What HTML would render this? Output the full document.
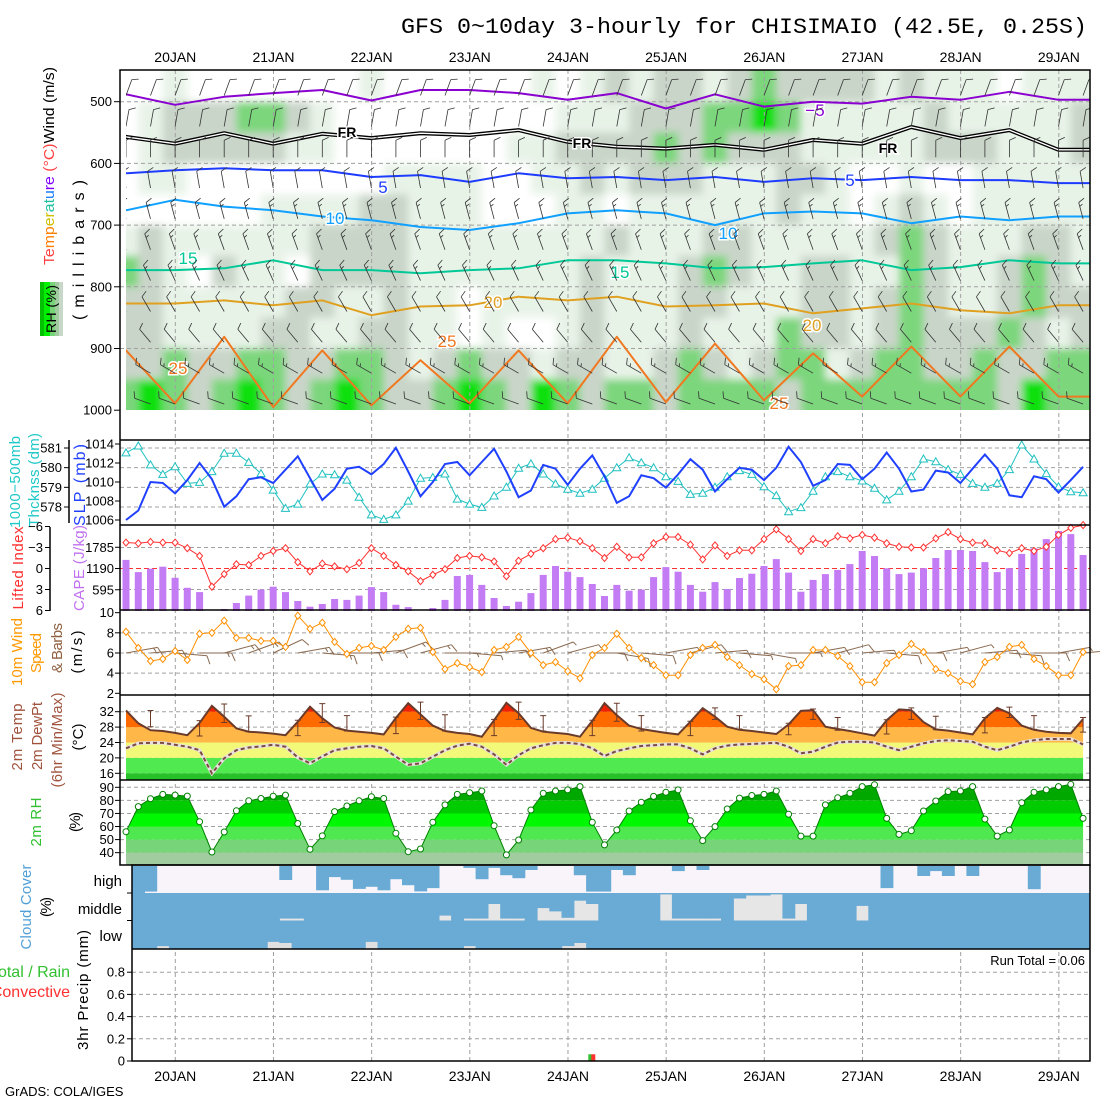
<!DOCTYPE html>
<html><head><meta charset="utf-8"><title>GFS meteogram CHISIMAIO</title>
<style>
html,body{margin:0;padding:0;background:#fff;}
svg{display:block;font-family:"Liberation Sans",sans-serif;}
.tk{font-size:13px;fill:#000;}
</style></head>
<body>
<svg id="chart" xmlns="http://www.w3.org/2000/svg" width="1100" height="1100" viewBox="0 0 1100 1100">
<defs>
<clipPath id="clipUpper"><rect x="126" y="70" width="964" height="340"/></clipPath>
<clipPath id="clipCloud"><rect x="132" y="866" width="958" height="83"/></clipPath>
<filter id="blur" x="-5%" y="-5%" width="110%" height="110%"><feGaussianBlur stdDeviation="4"/></filter>
</defs>
<rect x="0" y="0" width="1100" height="1100" fill="#fff"/>
<text x="401" y="33" font-family="Liberation Mono, monospace" font-size="22" textLength="686" lengthAdjust="spacingAndGlyphs">GFS 0~10day 3-hourly for CHISIMAIO (42.5E, 0.25S)</text>

<g id="gShade" clip-path="url(#clipUpper)"><g id="gShadeIn" filter="url(#blur)"></g></g>
<g id="gGrid"></g>
<g id="gUpper" clip-path="url(#clipUpper)"></g>
<g id="gMarks"></g>
<g id="gFrames" stroke="#000" stroke-width="1.5" fill="none">
<rect x="120" y="70" width="970" height="795"/>
<line x1="120" y1="440" x2="1090" y2="440"/>
<line x1="120" y1="525" x2="1090" y2="525"/>
<line x1="120" y1="610" x2="1090" y2="610"/>
<line x1="120" y1="695" x2="1090" y2="695"/>
<line x1="120" y1="780" x2="1090" y2="780"/>
<rect x="132" y="865" width="958" height="196"/>
<line x1="132" y1="949" x2="1090" y2="949"/>
<line x1="69" y1="440" x2="69" y2="523"/>
<line x1="50" y1="527" x2="50" y2="611"/>
</g>
<g id="gText">
<g transform="translate(54,166) rotate(-90)"><text x="0" y="0" text-anchor="middle" font-size="15" textLength="198" lengthAdjust="spacingAndGlyphs"><tspan fill="#ff4040">Te</tspan><tspan fill="#ff8000">mp</tspan><tspan fill="#d0c000">er</tspan><tspan fill="#20c0a0">at</tspan><tspan fill="#2080ff">u</tspan><tspan fill="#8000ff">re</tspan><tspan fill="#ff4040"> (°C)</tspan><tspan fill="#000">Wind (m/s)</tspan></text></g>
<g transform="translate(84,250) rotate(-90)"><text x="0" y="0" text-anchor="middle" font-size="16" textLength="140" lengthAdjust="spacing">(millibars)</text></g>
<g>
<rect x="40" y="282" width="4" height="54" fill="#00c000"/><rect x="44" y="282" width="6" height="54" fill="#00f000"/><rect x="50" y="282" width="5" height="54" fill="#78d478"/><rect x="55" y="282" width="4" height="54" fill="#a0cca0"/><rect x="59" y="282" width="4" height="54" fill="#c8d8c8"/>
<g transform="translate(56,309) rotate(-90)"><text x="0" y="0" text-anchor="middle" font-size="14" textLength="48">RH (%)</text></g>
</g>
<g transform="translate(20,482) rotate(-90)"><text text-anchor="middle" font-size="15" fill="#20c8c8" textLength="92">1000−500mb</text></g>
<g transform="translate(39,480) rotate(-90)"><text text-anchor="middle" font-size="15" fill="#20c8c8" textLength="94">Thcknss (dm)</text></g>
<g transform="translate(85,485) rotate(-90)"><text text-anchor="middle" font-size="16" fill="#2040ff" textLength="82">SLP (mb)</text></g>
<g transform="translate(23,568) rotate(-90)"><text text-anchor="middle" font-size="15" fill="#ff3030" textLength="83">Lifted Index</text></g>
<g transform="translate(84,568) rotate(-90)"><text text-anchor="middle" font-size="15" fill="#c070f0" textLength="86">CAPE (J/kg)</text></g>
<g transform="translate(22,652) rotate(-90)"><text text-anchor="middle" font-size="15" fill="#ff9900" textLength="68">10m Wind</text></g>
<g transform="translate(41,653) rotate(-90)"><text text-anchor="middle" font-size="15" fill="#ff9900" textLength="40">Speed</text></g>
<g transform="translate(62,648) rotate(-90)"><text text-anchor="middle" font-size="15" fill="#906040" textLength="50">&amp; Barbs</text></g>
<g transform="translate(82,652) rotate(-90)"><text text-anchor="middle" font-size="15" textLength="43">(m/s)</text></g>
<g transform="translate(22,737) rotate(-90)"><text text-anchor="middle" font-size="15" fill="#a0523c" textLength="67">2m Temp</text></g>
<g transform="translate(42,736) rotate(-90)"><text text-anchor="middle" font-size="15" fill="#a0523c" textLength="68">2m DewPt</text></g>
<g transform="translate(62,740) rotate(-90)"><text text-anchor="middle" font-size="15" fill="#a0523c" textLength="95">(6hr Min/Max)</text></g>
<g transform="translate(83,737) rotate(-90)"><text text-anchor="middle" font-size="15" textLength="27">(°C)</text></g>
<g transform="translate(41,822) rotate(-90)"><text text-anchor="middle" font-size="15" fill="#30c030" textLength="49">2m RH</text></g>
<g transform="translate(80,822) rotate(-90)"><text text-anchor="middle" font-size="15" textLength="20">(%)</text></g>
<g transform="translate(31,907) rotate(-90)"><text text-anchor="middle" font-size="15" fill="#50a0d8" textLength="85">Cloud Cover</text></g>
<g transform="translate(51,907) rotate(-90)"><text text-anchor="middle" font-size="15" textLength="20">(%)</text></g>
<text x="122" y="886" text-anchor="end" font-size="15">high</text>
<text x="122" y="914" text-anchor="end" font-size="15">middle</text>
<text x="122" y="941" text-anchor="end" font-size="15">low</text>
<text x="70" y="977" text-anchor="end" font-size="16" fill="#30c030">Total / Rain</text>
<text x="70" y="997" text-anchor="end" font-size="16" fill="#ff3030">Convective</text>
<g transform="translate(88,990) rotate(-90)"><text text-anchor="middle" font-size="15" textLength="120">3hr Precip (mm)</text></g>
<text x="1085" y="965" text-anchor="end" font-size="13">Run Total = 0.06</text>
<text x="5" y="1096" font-size="13">GrADS: COLA/IGES</text>
</g>
</svg>
<script>
// ===== data (3-hourly from 19JAN 12Z, 79 steps) =====
const days = ['20JAN','21JAN','22JAN','23JAN','24JAN','25JAN','26JAN','27JAN','28JAN','29JAN'];
const slp = [1006.0,1007.0,1010.0,1009.9,1008.8,1010.2,1012.0,1010.3,1007.4,1008.5,1010.3,1010.5,1009.9,1011.3,1012.7,1010.4,1008.1,1009.3,1011.4,1011.6,1010.8,1011.9,1013.6,1011.1,1008.5,1010.0,1011.9,1012.1,1010.7,1012.1,1013.5,1011.1,1008.4,1009.1,1011.8,1011.4,1009.7,1011.4,1012.8,1010.6,1007.8,1008.5,1010.7,1010.4,1009.4,1010.8,1012.4,1011.3,1009.0,1010.3,1011.5,1011.3,1010.2,1011.5,1013.7,1012.1,1009.6,1010.2,1011.9,1011.8,1010.3,1011.4,1013.1,1011.4,1009.0,1009.2,1011.2,1011.0,1009.9,1011.4,1012.9,1011.4,1008.6,1008.4,1010.6,1010.3,1008.9,1010.2,1011.6];
const thick = [580.75,581.1,580.14,579.66,580.05,579.2,579.25,579.8,580.73,580.73,580.27,579.7,578.86,577.93,578.15,579.17,579.68,579.64,579.37,578.5,577.6,577.37,577.6,578.3,579.46,579.5,579.68,578.4,578.15,577.98,578.56,579.0,579.97,580.2,579.68,579.17,578.9,578.7,578.9,579.46,580.0,580.5,580.25,580.0,579.54,579.3,578.64,578.7,579.0,579.54,579.85,579.66,579.03,578.58,577.76,577.97,578.8,579.54,579.8,579.54,579.32,578.95,578.36,578.8,579.54,580.44,580.3,579.9,579.66,579.2,579.0,579.2,579.9,581.15,580.44,579.7,579.03,578.78,578.73];
const li = [-3.7,-3.6,-3.8,-3.7,-3.7,-2.9,-1.8,2.6,0.8,-0.6,-0.5,-1.8,-2.5,-2.9,-0.9,0.4,-0.7,-0.3,0.1,-0.8,-2.9,-1.8,-0.5,0.4,1.8,0.9,0.1,-1.5,-1.8,-1.6,-1.0,1.1,-1.1,-2.1,-2.9,-4.2,-4.4,-3.9,-2.9,-1.5,-3.1,-1.6,-1.6,-3.6,-4.5,-4.5,-3.4,-1.3,-3.3,-1.8,-2.6,-2.6,-4.2,-5.6,-4.2,-2.5,-4.2,-3.6,-4.6,-4.3,-4.8,-4.4,-3.6,-3.1,-3.0,-3.0,-4.3,-5.2,-4.2,-3.7,-3.6,-2.6,-2.2,-2.9,-2.5,-3.1,-4.8,-5.8,-6.4];
const cape = [1430,1090,1185,1240,930,650,530,0,55,225,430,600,680,530,280,120,195,335,310,430,670,530,175,110,0,85,310,980,1010,730,365,140,260,500,1010,1260,1100,950,755,420,730,570,600,950,1230,1100,730,540,810,615,925,1045,1260,1455,1075,540,870,1035,1150,1315,1680,1540,1195,1035,1075,1200,1485,1710,1710,1680,1370,1090,1200,1600,1755,2015,2240,2155,1570];
const wspd = [8.1,6.5,5.2,5.4,6.2,5.3,7.9,8.0,9.2,7.5,7.5,7.2,7.2,6.6,9.7,8.4,9.0,7.1,5.9,6.5,6.7,6.3,7.6,8.4,8.5,6.1,4.4,5.0,4.6,4.1,6.3,6.6,7.6,6.0,4.8,5.1,4.2,3.5,5.8,6.5,7.9,6.5,5.5,4.8,3.8,3.8,5.8,6.5,6.8,5.6,4.8,3.9,3.4,2.4,4.7,4.8,6.3,6.3,5.7,4.7,3.1,3.1,5.0,5.8,6.9,6.1,4.4,4.0,3.2,2.9,5.1,5.6,6.6,6.8,5.4,4.7,3.8,3.8,6.1];
const wdir10 = [80,85,95,90,75,70,65,80,95,90,85,70,75,90,95,85,80,70,75,90,100,95,80,75,85,95,100,90,80,75,85,95,90,80,75,85,95,90,80,85];
const temp = [32.3,29.0,27.2,27.0,26.5,25.9,29.1,33.5,30.7,27.7,26.8,26.6,26.3,25.9,29.4,33.3,30.3,27.9,27.1,26.8,26.5,26.1,30.4,34.2,31.3,28.4,27.0,26.5,26.2,25.5,29.8,34.3,31.6,27.8,26.8,26.5,26.2,25.5,29.6,34.2,31.1,28.4,27.5,27.0,26.5,26.1,29.4,32.9,30.7,28.1,27.3,27.0,26.6,26.2,28.7,32.2,32.4,28.1,27.5,27.0,26.4,25.8,29.8,32.6,32.4,29.3,27.4,27.1,26.6,26.1,30.3,33.0,31.6,28.4,27.3,26.8,26.5,26.4,30.1];
const dew = [22.5,23.8,23.9,23.9,23.4,22.9,22.0,16.0,19.9,22.0,22.7,23.0,23.4,22.9,20.1,18.6,20.4,22.0,22.5,22.9,23.1,22.5,20.3,18.2,18.6,20.3,22.0,23.2,23.7,22.9,20.9,18.2,20.7,22.5,23.3,23.9,23.9,23.6,22.5,20.5,21.8,22.5,23.1,23.3,23.5,23.5,22.5,20.9,22.5,23.2,23.5,23.6,23.8,23.9,22.9,21.2,21.6,22.9,24.0,24.2,24.2,24.0,22.9,22.0,22.9,23.8,24.4,24.6,24.4,24.2,22.9,22.0,22.9,24.0,24.6,24.9,24.9,24.9,23.5];
const mmIdx = [2,6,8,10,14,16,18,22,24,26,30,32,34,38,40,42,46,48,50,54,56,58,62,64,66,70,72,74,78];
const mmHi = [32.3,29.7,34.0,30.9,29.8,34.1,31.0,30.6,34.5,31.2,30.0,34.5,31.0,29.8,34.2,31.0,29.5,33.0,31.0,29.0,32.7,30.5,29.9,33.0,30.8,30.5,33.2,31.0,30.5];
const mmLo = [28.1,25.7,29.2,26.8,25.8,29.2,27.0,26.3,30.0,27.0,25.8,30.0,27.0,25.8,29.5,27.0,25.8,30.0,27.5,26.0,30.0,27.2,26.2,30.0,27.3,26.5,30.5,27.4,26.7];
const rh = [56,75.2,81.3,84.6,84,83.3,63.7,40.5,55.8,72,79.7,81.4,83.2,84,62.3,42.6,52.8,71.4,75.7,79.7,82.8,81.4,54.8,40.7,42.8,63.2,76.5,84.6,85.9,87.2,60.6,38.3,49.7,72.6,85.4,87.2,88,90.5,63.2,45.9,57.3,71.9,78.5,83,86.2,88,64.4,49.2,59.9,73.4,81.7,83.7,84.6,87.2,69.4,52.7,52.7,76.5,82,85.4,90.5,92,66.2,54,56.8,71.9,79.5,86.7,87.2,90.5,65.7,52.7,57.3,78.2,86.2,88,90.5,92.3,66.2];
const cldHigh = [100,100,95,0,0,0,0,0,0,0,0,0,0,52,0,0,90,41,51,85,77,90,49,71,94,82,0,0,7,49,7,34,45,15,0,0,0,34,95,95,15,34,0,0,0,19,0,15,0,0,0,0,0,0,0,0,0,0,0,0,0,0,82,0,0,37,19,37,0,37,0,0,0,0,86,0,0,0,0];
const cldMid = [100,100,100,100,100,100,100,100,100,100,100,100,100,93,93,100,100,100,100,100,100,100,100,100,100,100,82,100,93,93,40,93,93,100,55,67,90,28,40,100,100,100,100,100,5,93,93,93,93,100,20,9,9,5,93,40,100,100,100,100,47,100,100,100,100,100,100,100,100,100,100,100,100,100,100,100,100,100,100];
const cldLow = [100,100,100,90,100,100,100,100,100,100,100,100,75,79,100,100,100,100,100,100,75,100,100,100,100,100,100,100,90,100,100,100,100,100,100,100,90,79,100,100,100,100,100,100,100,100,100,100,100,100,100,100,100,100,100,100,100,100,100,100,100,100,100,100,100,100,100,100,100,100,100,100,100,100,100,100,100,100,100];
const precipIdx = [38];
const precipTotal = [0.06];
const precipConv = [0.06];
// upper-air: RH category grid (6-hourly columns x 50 mb bands 450-1000)
const rhR0 = [0,0,1,0,0,0,0,0,0,0,1,0,0,0,0,0,0,1,0,1,2,1,2,2,1,2,3,2,2,2,2,1,2,1,1,1,0,1,1,1];
const rhR1 = [0,1,2,2,2,3,3,2,1,0,0,0,0,0,0,0,0,0,1,1,1,2,2,2,3,3,4,3,1,1,1,1,1,2,1,1,1,1,1,2];
const rhR2 = [0,1,2,2,2,2,2,1,1,0,0,0,0,0,0,0,1,1,2,2,2,2,3,2,3,2,2,2,1,1,1,1,1,2,2,2,1,1,1,2];
const rhR3 = [0,1,1,0,0,0,0,0,0,0,0,1,1,1,1,0,0,1,1,2,1,2,2,2,1,1,1,2,2,1,0,0,1,0,0,1,1,1,1,1];
const rhR4 = [0,0,0,0,0,0,1,1,1,1,2,2,1,1,1,0,0,0,1,1,0,1,1,1,1,1,1,2,1,1,0,1,2,1,0,1,1,1,1,1];
const rhR5 = [1,2,1,1,1,1,1,1,2,2,2,2,1,1,1,1,1,1,1,1,2,1,1,1,2,2,1,1,1,1,1,2,3,2,1,1,1,2,2,1];
const rhR6 = [3,2,1,0,2,1,1,0,2,2,2,2,1,1,1,1,1,1,1,2,1,1,1,2,3,2,1,1,2,2,1,1,3,2,1,1,2,3,2,1];
const rhR7 = [2,2,1,1,1,1,1,2,2,1,1,2,1,1,0,1,1,1,1,2,1,1,1,2,2,1,1,1,2,2,1,2,3,2,1,1,2,3,2,2];
const rhR8 = [2,2,1,1,1,1,2,2,1,1,2,2,1,1,0,1,0,0,1,2,1,1,1,2,1,1,1,3,2,2,1,2,3,2,2,2,3,2,1,2];
const rhR9 = [2,2,3,2,2,3,3,2,2,3,3,2,1,2,3,2,2,1,2,2,1,1,2,3,2,1,2,3,3,1,2,3,3,2,2,3,2,2,3,3];
const rhR10 = [3,4,3,2,3,4,3,2,3,4,3,2,2,3,4,3,2,4,3,2,3,3,2,3,3,3,3,2,3,3,3,3,3,3,3,3,2,4,3,3];
// isotherm pressure (mb) every 12 h
const isoM5 = [488,505,492,486,481,498,481,481,486,497,486,511,488,508,500,503,492,497,484,497];
const isoFR = [557,568,551,568,552,559,551,554,546,565,573,576,570,578,562,568,541,559,546,578];
const iso5 = [616,611,608,611,611,622,619,630,616,624,622,627,622,630,624,627,622,627,627,632];
const iso10 = [676,659,670,676,686,692,703,708,697,681,676,681,700,681,678,681,697,686,692,686];
const iso15 = [773,773,770,757,773,773,778,773,770,757,757,762,770,768,762,757,773,768,757,762];
const iso20 = [827,827,822,830,822,846,832,830,816,822,816,832,830,827,843,835,827,838,843,830];
const iso25 = [903,989,881,995,903,992,919,989,903,989,881,987,892,984,908,978,897,978,897,978];
const barbLevels = [490,540,590,640,690,740,790,840,890,940,990];
const barbDir = [20,10,0,350,345,340,335,330,320,300,290];
const barbSpd = [7,6,6,7,8,8,8,7,7,8,7];

// ===== scales =====
const NS = 'http://www.w3.org/2000/svg';
const svg = document.getElementById('chart');
const gShade = document.getElementById('gShadeIn');
const gGrid = document.getElementById('gGrid');
const gUpper = document.getElementById('gUpper');
const gMarks = document.getElementById('gMarks');
const gText = document.getElementById('gText');
function mk(tag, attrs, parent){const e=document.createElementNS(NS,tag);for(const k in attrs)e.setAttribute(k,attrs[k]);parent.appendChild(e);return e;}
const X = i => 126 + i*12.27;
const XD = d => 175.3 + d*98.17;
const XC6 = j => 126 + j*24.54;
const XC12 = k => 126 + k*49.08;
const yP = p => 101.7 + (p-500)*0.617;
const ySlp = v => 444 + (1014-v)*9.5;
const yThk = v => 448 + (581-v)*19.67;
const yLi = v => 568.5 + v*7.0;
const yCape = v => 611 - v*0.0357;
const yW = v => 693.3 - (v-2)*10.08;
const yT = v => 711.7 + (32-v)*3.85;
const yRh = v => 787.3 + (90-v)*1.307;
const yPr = v => 1061 - v*111;
function pts(arr, yf, xf){return arr.map((v,i)=>(xf||X)(i).toFixed(1)+','+yf(v).toFixed(1)).join(' ');}

// ===== upper RH shading =====
const rhGrid = [rhR0,rhR1,rhR2,rhR3,rhR4,rhR5,rhR6,rhR7,rhR8,rhR9,rhR10];
const rhColors = ['#ffffff','#e8f3e8','#c9d5c9','#7cd67c','#10e010'];
rhGrid.forEach((row,r)=>{
  row.forEach((c,j)=>{
    let x0 = XC6(j)-12.27, x1 = XC6(j)+12.27;
    if(j===0) x0 = 90; if(j===row.length-1) x1 = 1120;
    let y0 = yP(450+r*50), y1 = yP(500+r*50);
    if(r===0) y0 = 40; if(r===rhGrid.length-1) y1 = 440;
    const cell = mk('rect',{x:x0.toFixed(1),y:y0.toFixed(1),width:(x1-x0+0.6).toFixed(1),height:(y1-y0+0.6).toFixed(1),fill:rhColors[c]},gShade);
    
    
  });
});
const whiteBelow = mk('rect',{x:121,y:410,width:968,height:29,fill:'#fff'},gGrid);



// ===== grid lines =====
const dash = {stroke:'#a0a0a0','stroke-width':1,'stroke-dasharray':'4,3'};
function hline(y,x0,name){const l=mk('line',Object.assign({x1:x0,y1:y,x2:1090,y2:y},dash),gGrid);}
days.forEach((d,k)=>{
  const x = XD(k);
  const l = mk('line',Object.assign({x1:x,y1:70,x2:x,y2:1061},dash),gGrid);
  
  
  const t1 = mk('text',{x:x,y:62,'text-anchor':'middle','font-size':14,textLength:42},gText);
  t1.textContent = d;
  
  
  const t2 = mk('text',{x:x,y:1081,'text-anchor':'middle','font-size':14,textLength:42},gText);
  t2.textContent = d;
  
  
});
function tick(x1,x2,y){const t=mk('line',{x1:x1,y1:y,x2:x2,y2:y,stroke:'#000','stroke-width':1},gText);}
function label(x,y,s,name){const t=mk('text',{x:x,y:y+4.5,'text-anchor':'end','class':'tk'},gText);t.textContent=s;}
const pTicks = [500,600,700,800,900,1000];
pTicks.forEach(p=>{ if(p<1000) hline(yP(p),120,'pressure-gridline'); tick(114,120,yP(p)); label(112,yP(p),String(p),'pressure-tick-label'); });
const thkTicks = [581,580,579,578];
thkTicks.forEach(v=>{ hline(yThk(v),120,'thickness-gridline'); tick(64,69,yThk(v)); label(62,yThk(v),String(v),'thickness-tick-label'); });
const slpTicks = [1014,1012,1010,1008,1006];
slpTicks.forEach(v=>{ tick(115,120,ySlp(v)); label(114,ySlp(v),String(v),'slp-tick-label'); });
const liTicks = [-6,-3,0,3,6];
liTicks.forEach(v=>{ if(v===-3||v===3) hline(yLi(v),120,'li-gridline'); tick(45,50,yLi(v)); label(43,yLi(v),(v<0?'−':'')+Math.abs(v),'li-tick-label'); });
const capeTicks = [1785,1190,595];
capeTicks.forEach(v=>{ tick(115,120,yCape(v)); label(114,yCape(v),String(v),'cape-tick-label'); });
const wTicks = [10,8,6,4,2];
wTicks.forEach(v=>{ if(v>2&&v<10) hline(yW(v),120,'wind-gridline'); tick(115,120,yW(v)); label(114,yW(v),String(v),'wind-tick-label'); });
const tTicks = [32,28,24,20,16];
const rhTicks = [90,80,70,60,50,40];
const prTicks = [0.8,0.6,0.4,0.2,0];
prTicks.forEach(v=>{ if(v>0) hline(yPr(v),132,'precip-gridline'); tick(127,132,yPr(v)); label(125,yPr(v),String(v),'precip-tick-label'); });
const zeroLi = mk('line',{x1:120,y1:yLi(0),x2:1090,y2:yLi(0),stroke:'#ff3030','stroke-width':1,'stroke-dasharray':'5,3'},gGrid);



// ===== isotherms =====
function iso(arr,color,name,w){
  const p = [[120,yP(arr[0])]].concat(arr.map((v,k)=>[XC12(k),yP(v)])).concat([[1092,yP(arr[arr.length-1])]]);
  const s = p.map(q=>q[0].toFixed(1)+','+q[1].toFixed(1)).join(' ');
  const l = mk('polyline',{points:s,fill:'none',stroke:color,'stroke-width':w||2,'stroke-linejoin':'round'},gUpper);
  
  
  return s;
}
iso(isoM5,'#8a00d0','isotherm-minus5');
const frPts = iso(isoFR,'#000','isotherm-freezing',4);
const frIn = mk('polyline',{points:frPts,fill:'none',stroke:'#fff','stroke-width':1.3},gUpper);


iso(iso5,'#1e3cff','isotherm-5');
iso(iso10,'#10a0ff','isotherm-10');
iso(iso15,'#00c896','isotherm-15');
iso(iso20,'#e0a020','isotherm-20');
iso(iso25,'#f07820','isotherm-25');
const isoLabels = [['−5',815,116,'#8a00d0'],['FR',347,137,'#000'],['FR',582,148,'#000'],['FR',888,153,'#000'],['5',383,193,'#1e3cff'],['5',850,186,'#1e3cff'],['10',335,224,'#10a0ff'],['10',728,239,'#10a0ff'],['15',188,264,'#00c896'],['15',620,278,'#00c896'],['20',493,308,'#e0a020'],['20',812,331,'#e0a020'],['25',178,374,'#f07820'],['25',447,347,'#f07820'],['25',779,409,'#f07820']];
isoLabels.forEach(a=>{
  const t = mk('text',{x:a[1],y:a[2],'text-anchor':'middle','font-size':a[0]==='FR'?14:17,'font-weight':a[0]==='FR'?'bold':'normal',fill:a[3],stroke:'#fff','stroke-width':3,'paint-order':'stroke'},gUpper);
  t.textContent = a[0];
  
  
});

// ===== wind barbs =====
function barbPath(x,y,dir,spd,L,fl){
  const r = dir*Math.PI/180, ux = Math.sin(r), uy = -Math.cos(r);
  const px = -uy, py = ux;
  const tx = x+ux*L, ty = y+uy*L;
  let d = 'M'+x.toFixed(1)+' '+y.toFixed(1)+'L'+tx.toFixed(1)+' '+ty.toFixed(1);
  let n = Math.floor(spd/5), half = (spd%5)>=2.5, off = 0;
  for(let k=0;k<n;k++){const bx=tx-ux*off,by=ty-uy*off;d+='M'+bx.toFixed(1)+' '+by.toFixed(1)+'l'+((px*0.9+ux*0.4)*fl).toFixed(1)+' '+((py*0.9+uy*0.4)*fl).toFixed(1);off+=4;}
  if(half){const bx=tx-ux*off,by=ty-uy*off;d+='M'+bx.toFixed(1)+' '+by.toFixed(1)+'l'+((px*0.9+ux*0.4)*fl*0.5).toFixed(1)+' '+((py*0.9+uy*0.4)*fl*0.5).toFixed(1);}
  return d;
}
barbLevels.forEach((p,r)=>{
  for(let j=0;j<40;j++){
    const b = mk('path',{d:barbPath(XC6(j),yP(p),barbDir[r],barbSpd[r],17,7),stroke:'#333',fill:'none','stroke-width':0.8},gUpper);
    
    
  }
});
wdir10.forEach((d,j)=>{
  const i = j*2;
  const b = mk('path',{d:barbPath(X(i),yW(6),d,wspd[i],32,9),stroke:'#8a6a50',fill:'none','stroke-width':1},gMarks);
  
  
});

// ===== thickness / SLP =====
const thkLine = mk('polyline',{points:pts(thick,yThk),fill:'none',stroke:'#20c0c0','stroke-width':1},gMarks);


thick.forEach((v,i)=>{
  const x=X(i),y=yThk(v);
  const m = mk('path',{d:`M${x.toFixed(1)} ${(y-4).toFixed(1)}L${(x+4).toFixed(1)} ${(y+3).toFixed(1)}L${(x-4).toFixed(1)} ${(y+3).toFixed(1)}Z`,fill:'#fff',stroke:'#20c0c0','stroke-width':1},gMarks);
  
  
});
const slpLine = mk('polyline',{points:pts(slp,ySlp),fill:'none',stroke:'#2040ff','stroke-width':2},gMarks);



// ===== CAPE / LI =====
cape.forEach((v,i)=>{
  if(v<=0) return;
  const b = mk('rect',{x:(X(i)-3.5).toFixed(1),y:yCape(v).toFixed(1),width:7,height:(611-yCape(v)).toFixed(1),fill:'#c47cf5'},gMarks);
  
  
});
const liClip = li.map(v=>Math.max(v,-6.2));
const liLine = mk('polyline',{points:pts(liClip,yLi),fill:'none',stroke:'#ff3030','stroke-width':1},gMarks);


liClip.forEach((v,i)=>{
  const x=X(i),y=yLi(v);
  const m = mk('path',{d:`M${x.toFixed(1)} ${(y-3.5).toFixed(1)}L${(x+3).toFixed(1)} ${y.toFixed(1)}L${x.toFixed(1)} ${(y+3.5).toFixed(1)}L${(x-3).toFixed(1)} ${y.toFixed(1)}Z`,fill:'#fff',stroke:'#ff3030','stroke-width':1},gMarks);
  
  
});

// ===== 10m wind speed =====
const wLine = mk('polyline',{points:pts(wspd,yW),fill:'none',stroke:'#ff9000','stroke-width':1},gMarks);


wspd.forEach((v,i)=>{
  const x=X(i),y=yW(v);
  const m = mk('path',{d:`M${x.toFixed(1)} ${(y-3.5).toFixed(1)}L${(x+3).toFixed(1)} ${y.toFixed(1)}L${x.toFixed(1)} ${(y+3.5).toFixed(1)}L${(x-3).toFixed(1)} ${y.toFixed(1)}Z`,fill:'#fff',stroke:'#ff9000','stroke-width':1},gMarks);
  
  
});

// ===== temperature panel =====
const tPoly = pts(temp,yT)+` ${X(78).toFixed(1)},780 ${X(0).toFixed(1)},780`;
const defs = svg.querySelector('defs');
const cpT = mk('clipPath',{id:'clipTemp'},defs);
mk('polygon',{points:tPoly},cpT);
const gT = mk('g',{'clip-path':'url(#clipTemp)'},gMarks);


const tBands = [[14,16,'#28c028'],[16,20,'#50ea50'],[20,24,'#f2f878'],[24,28,'#ffb848'],[28,32,'#ff6a00'],[32,40,'#f02000']];
tBands.forEach(b=>{
  const r = mk('rect',{x:120,y:yT(b[1]).toFixed(1),width:970,height:(yT(b[0])-yT(b[1])).toFixed(1),fill:b[2]},gT);
  
  
});
tTicks.forEach(v=>{ hline(yT(v),120,'temp-gridline'); tick(115,120,yT(v)); label(114,yT(v),String(v),'temp-tick-label'); });
const tLine = mk('polyline',{points:pts(temp,yT),fill:'none',stroke:'#6a3a2a','stroke-width':2},gMarks);


const dLineBg = mk('polyline',{points:pts(dew,yT),fill:'none',stroke:'#e8e0e0','stroke-width':3.5},gMarks);


const dLine = mk('polyline',{points:pts(dew,yT),fill:'none',stroke:'#7a4a40','stroke-width':2,'stroke-dasharray':'4,3'},gMarks);


mmIdx.forEach((i,k)=>{
  const x=X(i), y1=yT(mmHi[k]), y2=yT(mmLo[k]);
  const e = mk('path',{d:`M${x.toFixed(1)} ${y1.toFixed(1)}V${y2.toFixed(1)}M${(x-3).toFixed(1)} ${y1.toFixed(1)}h6M${(x-3).toFixed(1)} ${y2.toFixed(1)}h6`,stroke:'#6a3a2a',fill:'none','stroke-width':1},gMarks);
  
  
});

// ===== RH panel =====
const rPoly = pts(rh,yRh)+` ${X(78).toFixed(1)},865 ${X(0).toFixed(1)},865`;
const cpR = mk('clipPath',{id:'clipRh'},defs);
mk('polygon',{points:rPoly},cpR);
const gR = mk('g',{'clip-path':'url(#clipRh)'},gMarks);


const rBands = [[20,40,'#a0cca0'],[40,50,'#78d478'],[50,60,'#50e850'],[60,70,'#00f800'],[70,80,'#00cc00'],[80,100,'#00a800']];
rBands.forEach(b=>{
  const r = mk('rect',{x:120,y:yRh(b[1]).toFixed(1),width:970,height:(yRh(b[0])-yRh(b[1])).toFixed(1),fill:b[2]},gR);
  
  
});
rhTicks.forEach(v=>{ hline(yRh(v),120,'rh-gridline'); tick(115,120,yRh(v)); label(114,yRh(v),String(v),'rh-tick-label'); });
const rLine = mk('polyline',{points:pts(rh,yRh),fill:'none',stroke:'#008000','stroke-width':1},gMarks);


rh.forEach((v,i)=>{
  const c = mk('circle',{cx:X(i).toFixed(1),cy:yRh(v).toFixed(1),r:3,fill:'#fff',stroke:'#008000','stroke-width':1},gMarks);
  
  
});

// ===== cloud cover =====
const gC = mk('g',{'clip-path':'url(#clipCloud)'},gMarks);


const rows = [[866,893,cldHigh,'#f8f4fa','cloud-high'],[893,920.5,cldMid,'#e6e6e6','cloud-middle'],[920.5,949,cldLow,'#e0e0e0','cloud-low']];
rows.forEach(rw=>{
  const bg = mk('rect',{x:132,y:rw[0],width:958,height:rw[1]-rw[0],fill:rw[3]},gC);
  
  
  rw[2].forEach((v,i)=>{
    if(v<=0) return;
    const h = (rw[1]-rw[0])*v/100;
    const b = mk('rect',{x:(X(i)-6.2).toFixed(1),y:rw[0],width:12.9,height:h.toFixed(1),fill:'#6aabd6'},gC);
    
    
  });
});
hline(893,132,'cloud-row-divider');
hline(920.5,132,'cloud-row-divider');
hline(947,132,'cloud-row-divider');
tick(127,132,893); tick(127,132,920.5);

// ===== precipitation =====
precipIdx.forEach((i,k)=>{
  const bt = mk('rect',{x:(X(i)-4).toFixed(1),y:yPr(precipTotal[k]).toFixed(1),width:4,height:(1061-yPr(precipTotal[k])).toFixed(1),fill:'#30c030'},gMarks);
  
  
  const bc = mk('rect',{x:(X(i)-1).toFixed(1),y:yPr(precipConv[k]).toFixed(1),width:4,height:(1061-yPr(precipConv[k])).toFixed(1),fill:'#ff3030'},gMarks);
  
  
});
// bring frames & text to front
svg.appendChild(document.getElementById('gFrames'));
svg.appendChild(gText);
</script>
</body></html>
